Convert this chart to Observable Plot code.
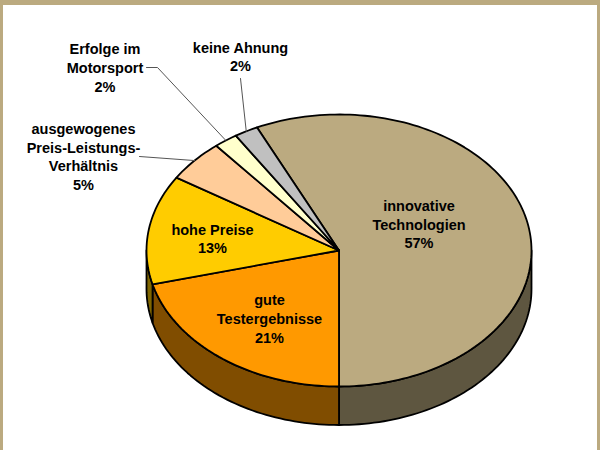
<!DOCTYPE html>
<html>
<head>
<meta charset="utf-8">
<script src="https://cdn.jsdelivr.net/npm/d3@7"></script>
<script src="https://cdn.jsdelivr.net/npm/@observablehq/plot@0.6"></script>
<style>
html,body{margin:0;padding:0;background:#fff;overflow:hidden}
#chart{width:600px;height:450px}
#chart svg{display:block}
#frame{position:fixed;left:0;top:0;width:600px;height:450px;box-sizing:border-box;border-style:solid;border-color:#BBAA80;border-width:5px 3px 0 3px;pointer-events:none}
</style>
</head>
<body>
<div id="chart"></div>
<div id="frame"></div>
<script>
const categories = ["innovative\nTechnologien","gute\nTestergebnisse","hohe Preise","ausgewogenes\nPreis-Leistungs-\nVerhältnis","Erfolge im\nMotorsport","keine Ahnung"];
const shares = [57,21,13,5,2,2];
const topColors = ["#BBAA80","#FF9900","#FFCC00","#FFCC99","#FFFFCC","#C0C0C0"];
const sideColors = ["#5E5640","#804D00","#806600","#806600","#806600","#606060"];

// layout of the tilted pie
const cx = 338.5, cy = 250, rx = 192.5, ry = 136, depth = 38.5;
const startDeg = -25.2;

const rad = d => d * Math.PI / 180;
const px = a => cx + rx * Math.sin(a);
const py = a => cy - ry * Math.cos(a);

const pie = d3.pie().sort(null).value(d => d).startAngle(rad(startDeg)).endAngle(rad(startDeg + 360))(shares);

function arcPts(a0, a1, dy = 0) {
  const n = Math.max(2, Math.ceil(Math.abs(a1 - a0) / rad(1.5)));
  return d3.range(n + 1).map(i => {
    const a = a0 + (a1 - a0) * i / n;
    return {x: px(a), y: py(a) + dy};
  });
}

// front wall: only the part of each slice between 90° and 270° (clockwise from top)
const sidePolys = [];
pie.forEach((s, i) => {
  for (const off of [0, 2 * Math.PI]) {
    const a0 = Math.max(s.startAngle + off, rad(90));
    const a1 = Math.min(s.endAngle + off, rad(270));
    if (a1 > a0) {
      const pts = [...arcPts(a0, a1), ...arcPts(a1, a0, depth)];
      pts.push(pts[0]);
      pts.forEach(p => sidePolys.push({...p, z: "s" + i + off, color: sideColors[i]}));
    }
  }
});

const topPolys = [];
pie.forEach((s, i) => {
  const pts = [{x: cx, y: cy}, ...arcPts(s.startAngle, s.endAngle), {x: cx, y: cy}];
  pts.forEach(p => topPolys.push({...p, z: "t" + i, color: topColors[i]}));
});

const mid = s => (s.startAngle + s.endAngle) / 2;

// label block centres relative to the pie centre
const labelOffsets = [[80,-27],[-69.5,67.5],[-126.5,-12.4],[-255.5,-94.5],[-234,-183.5],[-98.5,-194.5]];
const labels = pie.map((s, i) => ({
  text: categories[i] + "\n" + shares[i] + "%",
  x: cx + labelOffsets[i][0],
  y: cy + labelOffsets[i][1]
}));

// leader lines: rim mid-point to label side
const leaderEnds = [null,null,null,[[139,156]],[[157,67],[146,67]],[[240,78]]];
const leaders = [];
pie.forEach((s, i) => {
  if (!leaderEnds[i]) return;
  const a = mid(s);
  leaders.push({x: px(a), y: py(a), z: i});
  leaderEnds[i].forEach(([x, y]) => leaders.push({x, y, z: i}));
});

const chart = Plot.plot({
  width: 600, height: 450,
  margin: 0,
  x: {domain: [0, 600], range: [0, 600], axis: null},
  y: {domain: [0, 450], range: [0, 450], axis: null},
  style: {background: "#fff", fontFamily: "'Liberation Sans', Arial, sans-serif"},
  marks: [
    Plot.line(sidePolys, {x: "x", y: "y", z: "z", curve: "linear", fill: {value: d => d.color, scale: null}, stroke: "#000", strokeWidth: 1.8, strokeLinejoin: "round"}),
    Plot.line(topPolys, {x: "x", y: "y", z: "z", curve: "linear", fill: {value: d => d.color, scale: null}, stroke: "#000", strokeWidth: 1.8, strokeLinejoin: "round"}),
    Plot.line(leaders, {x: "x", y: "y", z: "z", curve: "linear", stroke: "#555", strokeWidth: 1}),
    Plot.text(labels, {x: "x", y: "y", text: "text", fontSize: 14.5, fontWeight: "bold", lineHeight: 1.29, fill: "#000", textAnchor: "middle"})
  ]
});
document.getElementById("chart").appendChild(chart);
</script>
</body>
</html>
